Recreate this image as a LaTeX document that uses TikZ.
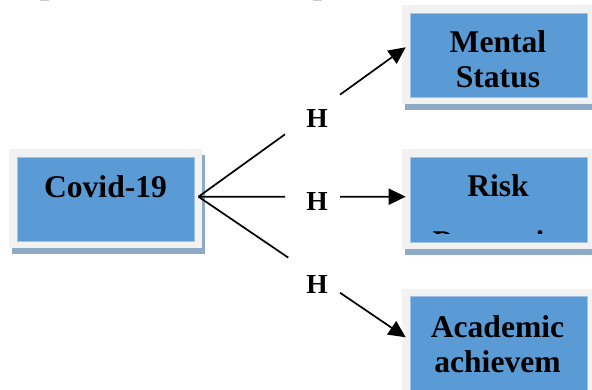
\documentclass[tikz,border=0pt]{standalone}
\usepackage{fontspec}
\setmainfont{Liberation Serif}
\usetikzlibrary{arrows.meta,calc,backgrounds}
\definecolor{boxblue}{RGB}{91,155,213}
\definecolor{boxedge}{RGB}{160,196,230}
\definecolor{framec}{RGB}{242,242,242}
\definecolor{shadowc}{RGB}{143,170,198}
\definecolor{markc}{RGB}{205,205,205}
\tikzset{
  box/.style={draw=boxedge, line width=0.8pt, fill=boxblue, minimum width=177pt, minimum height=84.5pt, inner sep=0pt},
  lbl/.style={font=\fontsize{31.6}{35}\selectfont\bfseries, inner sep=0pt},
  hlbl/.style={font=\fontsize{27.5}{30}\selectfont\bfseries, inner sep=0pt},
  conn/.style={line width=1.7pt, black},
  arr/.style={conn, -{Triangle[length=17pt,width=16pt]}}
}
\newcommand{\twolines}[2]{\begin{tabular}[t]{@{}c@{}}#1\\#2\end{tabular}}
\begin{document}
\begin{tikzpicture}[x=1pt,y=-1pt]
\useasboundingbox (0,0) rectangle (592,389);
% remnants at the top edge
\fill[markc] (40,0) rectangle (49,1.3);
\fill[markc] (313,0) rectangle (322,1.3);
% blue boxes
\node[box] (covid) at (105.5,199.5) {};
\node[box] (mental) at (498.5,55.5) {};
\node[box] (risk) at (498.5,199.7) {};
\node[box, minimum height=120pt] (academic) at (498.5,356.7) {};
\begin{pgfonlayer}{background}
\fill[white] (0,0) rectangle (592,389);
\foreach \n in {covid,mental,risk,academic}{
  \fill[shadowc] ($(\n.south west)+(-4.5,12.3)$) rectangle ($(\n.north east)+(11,-1.7)$);
  \fill[framec] ($(\n.south west)+(-7.5,6.3)$) rectangle ($(\n.north east)+(8,-7.7)$);
}
\end{pgfonlayer}
% texts
\node[lbl, anchor=base] (covidt) at (105.5,197.3) {Covid-19};
\node[lbl, anchor=base] (mentalt) at (498,52.7) {\twolines{Mental}{Status}};
\node[lbl, anchor=base] (riskt) at (498,196.7) {Risk};
\begin{scope}
  \clip (410,150) rectangle (587,233.5);
  \node[lbl, anchor=base west] (perct) at (432.5,252.4) {Perception};
\end{scope}
\node[lbl, anchor=base] (academict) at (497.5,337.3) {\twolines{Academic}{achievem}};
% H labels
\node[hlbl, anchor=base] (h1) at (317,127) {H};
\node[hlbl, anchor=base] (h2) at (317,210.7) {H};
\node[hlbl, anchor=base] (h3) at (317,293) {H};
% connectors
\coordinate (src) at (198.5,196.7);
\coordinate (t1) at (405.7,47.3);
\coordinate (t2) at (405.7,196.7);
\coordinate (t3) at (405.7,337.3);
\draw[conn] (src) -- ($(src)!0.4175!(t1)$);
\draw[arr] ($(src)!0.683!(t1)$) -- (t1);
\draw[conn] (src) -- ($(src)!0.4175!(t2)$);
\draw[arr] ($(src)!0.683!(t2)$) -- (t2);
\draw[conn] (src) -- ($(src)!0.4334!(t3)$);
\draw[arr] ($(src)!0.683!(t3)$) -- (t3);
\end{tikzpicture}
\end{document}
